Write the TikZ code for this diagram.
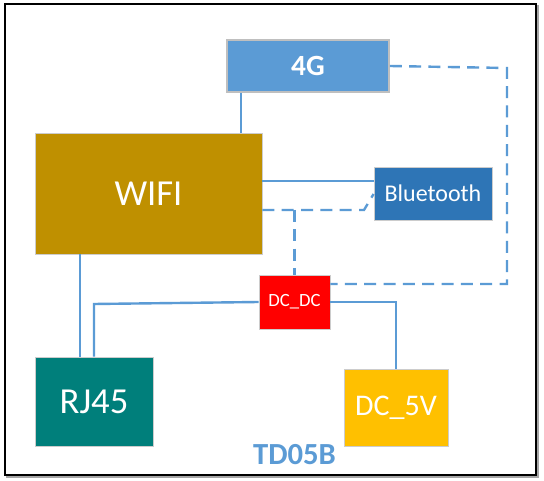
\documentclass[tikz,border=0pt]{standalone}
\usepackage{fontspec}
\setmainfont{Carlito}
\definecolor{lineblue}{HTML}{5B9BD5}
\definecolor{fourg}{HTML}{5B9BD5}
\definecolor{wific}{HTML}{BF9000}
\definecolor{btc}{HTML}{2E75B6}
\definecolor{dcdcc}{HTML}{FF0000}
\definecolor{rjc}{HTML}{007F7B}
\definecolor{dcfive}{HTML}{FFC000}
\tikzset{
  blk/.style 2 args={draw=white!80!black, line width=0.6pt, inner sep=0pt, text=white,
     minimum width=#1*0.75pt, minimum height=#2*0.75pt},
  conn/.style={draw=lineblue, line width=1.8pt},
  dconn/.style={draw=lineblue, line width=1.8pt, dash pattern=on 9pt off 5.5pt},
}
\begin{document}
\begin{tikzpicture}[x=0.75pt,y=-0.75pt]
\useasboundingbox (0,0) rectangle (544,481);
% frame with shadow
\draw[draw=black!35, line width=1.5pt] (7,6) rectangle (538,477);
\draw[draw=black, line width=1.5pt, fill=white] (5,4) rectangle (536,475);
% blocks
\node[blk={162}{52}, fill=fourg, draw=black!25, line width=1.2pt, font=\fontsize{22}{24}\selectfont\bfseries] (g4) at (308,66) {4G};
\node[blk={227}{121}, fill=wific, font=\fontsize{27.5}{30}\selectfont] (wifi) at (148.5,193.5) {WIFI};
\node[blk={118}{53}, fill=btc, font=\fontsize{18}{20}\selectfont] (bt) at (433,193.5) {Bluetooth};
\node[blk={71}{54}, fill=dcdcc, font=\fontsize{14}{16}\selectfont] (dcdc) at (294.5,302) {DC\_DC};
\node[blk={118}{89}, fill=rjc, font=\fontsize{27.5}{30}\selectfont] (rj) at (94,401.5) {RJ45};
\node[blk={104}{77}, fill=dcfive, font=\fontsize{22.5}{24}\selectfont] (dc5) at (396,407.5) {DC\_5V};
\node[text=lineblue, font=\fontsize{23}{25}\selectfont\bfseries, inner sep=0pt] (title) at (294.5,455) {TD05B};
% solid connectors
\draw[conn] (g4.south -| 241,0) -- (wifi.north -| 241,0);
\draw[conn] (wifi.east |- 0,181) -- (bt.west |- 0,181);
\draw[conn] (wifi.south -| 80,0) -- (rj.north -| 80,0);
\draw[conn] (dcdc.west) -- (94,304) -- (rj.north -| 94,0);
\draw[conn] (dcdc.east) -- (dc5.north |- dcdc.east) -- (dc5.north);
% dashed connectors
\coordinate (cA) at (507,68);
\coordinate (cB) at (507,284);
\draw[dconn] (g4.east) -- (cA) -- (cB) -- (dcdc.east |- cB);
\coordinate (cC) at (364,210);
\draw[dconn] (wifi.east |- cC) -- (cC) -- (bt.west |- 0,194);
\draw[dconn] (dcdc.north |- cC) -- (dcdc.north);
\end{tikzpicture}
\end{document}
